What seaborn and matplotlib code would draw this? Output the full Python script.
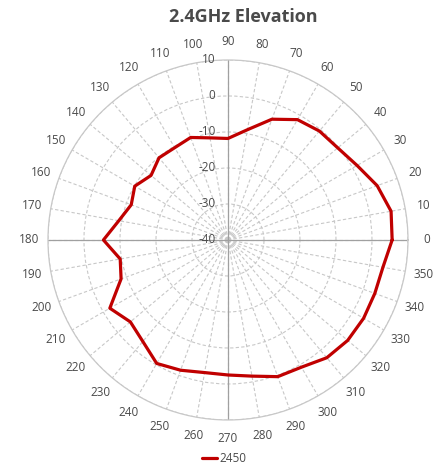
import numpy as np
import pandas as pd
import matplotlib
matplotlib.use("Agg")
import matplotlib.pyplot as plt
import matplotlib.transforms as mtransforms
import seaborn as sns

# ====================================================
# DATA
# ====================================================

angles_deg = [0, 10, 20, 30, 40, 50, 60, 70, 80, 90,
              100, 110, 120, 130, 140, 150, 160, 170, 180, 190,
              200, 210, 220, 230, 240, 250, 260, 270, 280, 290,
              300, 310, 320, 330, 340, 350]

gain_db = [5.6, 6.0, 4.1, 1.4, -0.2, -0.5, -1.4, -4.3, -8.9, -11.8,
           -11.2, -9.7, -10.4, -10.2, -12.1, -10.1, -11.4, -9.2, -5.4, -9.6,
           -8.4, -2.1, -4.6, -3.2, -0.4, -1.5, -2.6, -2.5, -1.6, 0.4,
           0.8, 2.7, 3.4, 3.5, 3.4, 3.7]

radial_ticks = [-40, -30, -20, -10, 0, 10]
angle_ticks = list(range(0, 360, 10))
series_name = "2450"
chart_title = "2.4GHz Elevation"

# close the loop
df = pd.DataFrame({
    "theta": np.deg2rad(angles_deg + [360]),
    "gain": gain_db + [gain_db[0]],
})

# ====================================================
# STYLE
# ====================================================

sns.set_style("white")
plt.rcParams["font.family"] = ["Open Sans", "DejaVu Sans"]

text_color = "#4a4a4a"
grid_color = "#c8c8c8"

fig = plt.figure(figsize=(4.48, 4.70), dpi=100)
ax = fig.add_axes([0.1071, 0.1064, 0.8036, 0.766], projection="polar")

ax.set_ylim(radial_ticks[0], radial_ticks[-1])
ax.set_yticks(radial_ticks)
ax.set_yticklabels([])
ax.set_thetagrids(angle_ticks, [str(a) for a in angle_ticks])
ax.grid(color=grid_color, linestyle=(0, (3, 2)), linewidth=0.8)
ax.tick_params(axis="x", colors=text_color, labelsize=8.5, pad=3)
ax.spines["polar"].set_color(grid_color)
ax.spines["polar"].set_linewidth(0.9)

# main cross axes
for a in (0, 90, 180, 270):
    ax.axvline(np.deg2rad(a), color="#a0a0a0", lw=0.9, zorder=1)

# ====================================================
# PATTERN
# ====================================================

sns.lineplot(
    data=df,
    x="theta",
    y="gain",
    ax=ax,
    color="#C00000",
    linewidth=2.3,
    sort=False,
    label=series_name,
    zorder=3,
)
ax.set_xlabel("")
ax.set_ylabel("")

# radial labels along the vertical axis
off = mtransforms.offset_copy(ax.transData, fig=fig, x=-9, y=0, units="points")
for r in radial_ticks:
    ax.text(np.pi / 2, r, str(r), transform=off, ha="right", va="center",
            fontsize=8.5, color=text_color, zorder=4)

handles, labels = ax.get_legend_handles_labels()
ax.get_legend().remove()
fig.legend(
    handles, labels,
    loc="center",
    bbox_to_anchor=(0.5, 0.024),
    frameon=False,
    handlelength=1.3,
    handletextpad=0.2,
    fontsize=8.5,
    labelcolor=text_color,
)

fig.text(243 / 448, 1 - 17 / 470, chart_title, ha="center", va="center",
         fontsize=13, fontweight="bold", color=text_color)

fig.savefig("out.png", dpi=100)
